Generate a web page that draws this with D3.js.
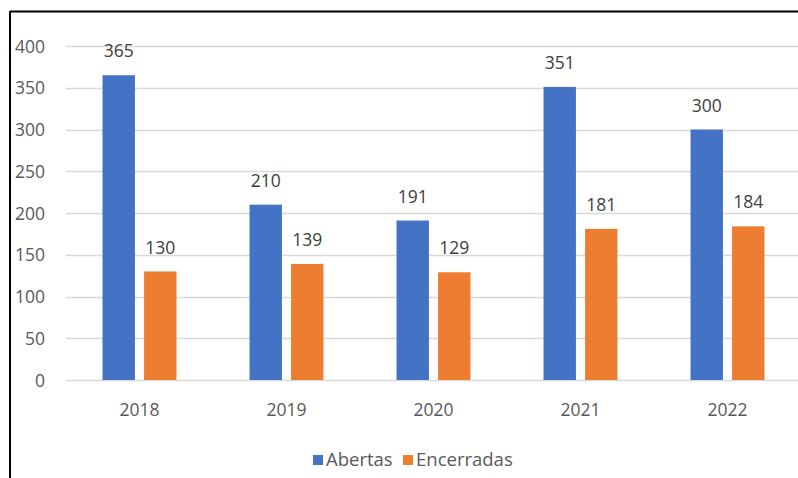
<!DOCTYPE html>
<html><head><meta charset="utf-8">
<script src="https://cdn.jsdelivr.net/npm/d3@7"></script>
<style>body{margin:0;background:#fff}svg{display:block}text{font-family:"Open Sans","Noto Sans",sans-serif}</style>
</head><body><svg id="c" width="798" height="478"></svg>
<script>
(function(){
const categories = ["2018","2019","2020","2021","2022"];
const seriesNames = ["Abertas","Encerradas"];
const abertas = [365,210,191,351,300];
const encerradas = [130,139,129,181,184];
const yTicks = [0,50,100,150,200,250,300,350,400];
const colors = ["#4472C4","#ED7D31"];

const svg = d3.select("#c");
svg.append("line").attr("x1",10).attr("x2",798).attr("y1",11.5).attr("y2",11.5).attr("stroke","#000").attr("stroke-width",2);
svg.append("line").attr("x1",10).attr("x2",10).attr("y1",11).attr("y2",478).attr("stroke","#000").attr("stroke-width",2);

const pL=66,pR=801,pT=46,pB=380;
const x = d3.scaleBand().domain(categories).range([pL,pR]).paddingInner(0.497).paddingOuter(0.2485);
const x1 = d3.scaleBand().domain(seriesNames).range([0,x.bandwidth()]).paddingInner(0.22);
const y = d3.scaleLinear().domain([0,400]).range([pB,pT]);

svg.append("g").selectAll("line").data(yTicks).join("line")
 .attr("x1",pL).attr("x2",798).attr("y1",d=>Math.round(y(d))+0.5).attr("y2",d=>Math.round(y(d))+0.5)
 .attr("stroke","#d9d9d9").attr("stroke-width",1.5);

const yAxis = d3.axisLeft(y).tickValues(yTicks).tickSize(0).tickPadding(0);
const gy = svg.append("g").attr("transform",`translate(${45},0)`).call(yAxis);
gy.select(".domain").remove();
gy.selectAll("text").attr("fill","#595959").style("font-size","17.5px").style("font-family","'Open Sans',sans-serif").attr("dy","0.35em");

const xAxis = d3.axisBottom(x).tickSize(0).tickPadding(0);
const gx = svg.append("g").attr("transform",`translate(0,${pB+30})`).call(xAxis);
gx.select(".domain").remove();
gx.selectAll("text").attr("fill","#595959").style("font-size","17.5px").style("font-family","'Open Sans',sans-serif").attr("dy","0.35em");

const data = categories.map((c,i)=>({c, vals:[abertas[i],encerradas[i]]}));
const g = svg.append("g").selectAll("g").data(data).join("g").attr("transform",d=>`translate(${x(d.c)},0)`);
g.selectAll("rect").data(d=>d.vals.map((v,j)=>({v,s:seriesNames[j],j}))).join("rect")
 .attr("x",d=>x1(d.s)).attr("width",x1.bandwidth())
 .attr("y",d=>y(d.v)).attr("height",d=>y(0)-y(d.v)).attr("fill",d=>colors[d.j]);
g.selectAll("text").data(d=>d.vals.map((v,j)=>({v,s:seriesNames[j],j}))).join("text")
 .attr("x",d=>x1(d.s)+x1.bandwidth()/2).attr("y",d=>y(d.v)-24).attr("dy","0.35em")
 .attr("text-anchor","middle").attr("fill","#404040").style("font-size","17.5px").text(d=>d.v);

const leg = svg.append("g");
const legItems = [{n:seriesNames[0],x:313},{n:seriesNames[1],x:403}];
legItems.forEach((it,i)=>{
  leg.append("rect").attr("x",it.x).attr("y",455).attr("width",10).attr("height",10).attr("fill",colors[i]);
  leg.append("text").attr("x",it.x+13).attr("y",460).attr("dy","0.35em").attr("fill","#595959").style("font-size","18.5px").text(it.n);
});
})();
</script></body></html>
